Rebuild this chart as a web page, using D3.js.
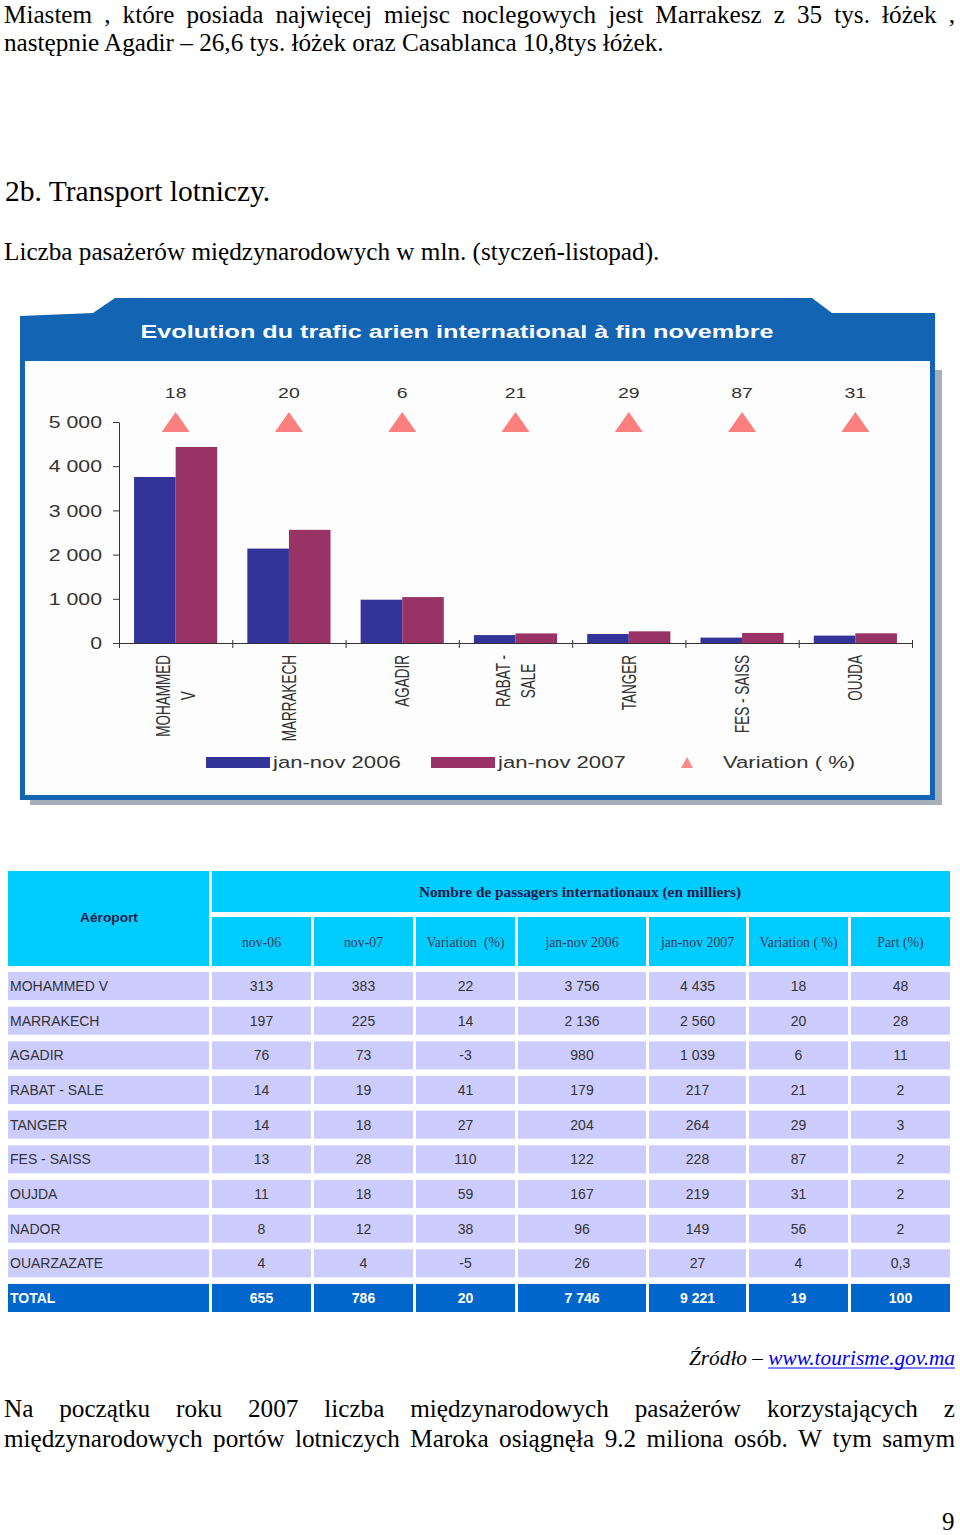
<!DOCTYPE html>
<html><head><meta charset="utf-8">
<script src="https://cdn.jsdelivr.net/npm/d3@7"></script>
<style>html,body{margin:0;padding:0;background:#fff;}svg{display:block;}</style>
</head><body>
<script>
// ---------- DATA ----------
const airports = ["MOHAMMED V","MARRAKECH","AGADIR","RABAT - SALE","TANGER","FES - SAISS","OUJDA"];
const axisLabels = [["MOHAMMED","V"],["MARRAKECH"],["AGADIR"],["RABAT -","SALE"],["TANGER"],["FES - SAISS"],["OUJDA"]];
const janNov2006 = [3756,2136,980,179,204,122,167];
const janNov2007 = [4435,2560,1039,217,264,228,219];
const variationPct = [18,20,6,21,29,87,31];
const yTicks = [0,1000,2000,3000,4000,5000];
const markerLevel = 5000;
const seriesNames = ["jan-nov 2006","jan-nov 2007"];
const chartTitle = "Evolution du trafic arien international à fin novembre";

const tableAirports = ["MOHAMMED V","MARRAKECH","AGADIR","RABAT - SALE","TANGER","FES - SAISS","OUJDA","NADOR","OUARZAZATE","TOTAL"];
const colHeaders = ["nov-06","nov-07","Variation  (%)","jan-nov 2006","jan-nov 2007","Variation ( %)","Part (%)"];
const colNov06 = ["313","197","76","14","14","13","11","8","4","655"];
const colNov07 = ["383","225","73","19","18","28","18","12","4","786"];
const colVarNov = ["22","14","-3","41","27","110","59","38","-5","20"];
const colJn06 = ["3 756","2 136","980","179","204","122","167","96","26","7 746"];
const colJn07 = ["4 435","2 560","1 039","217","264","228","219","149","27","9 221"];
const colVarJn = ["18","20","6","21","29","87","31","56","4","19"];
const colPart = ["48","28","11","2","3","2","2","2","0,3","100"];

const textPara1 = ["Miastem , które posiada najwięcej miejsc noclegowych jest Marrakesz z 35 tys. łóżek ,",
                   "następnie Agadir – 26,6 tys. łóżek oraz Casablanca 10,8tys łóżek."];
const heading = "2b. Transport lotniczy.";
const subHeading = "Liczba pasażerów międzynarodowych w mln. (styczeń-listopad).";
const sourceLabel = "Źródło – ";
const sourceLink = "www.tourisme.gov.ma";
const textPara2 = ["Na początku roku 2007 liczba międzynarodowych pasażerów korzystających z",
                   "międzynarodowych portów lotniczych Maroka osiągnęła 9.2 miliona osób. W tym samym"];
const pageNumber = "9";

// ---------- SETUP ----------
const W = 960, H = 1535;
const svg = d3.select("body").append("svg").attr("width", W).attr("height", H);
const SERIF = "'Liberation Serif','Times New Roman',serif";
const SANS = "'Liberation Sans',Arial,sans-serif";
const BODY = 25.2;

function textLine(str, x0, y, size, opts = {}) {
  const t = svg.append("text").attr("x", x0).attr("y", y)
    .attr("font-family", opts.family || SERIF).attr("font-size", size)
    .attr("fill", opts.fill || "#000");
  if (!opts.justifyTo) { t.text(str); return t; }
  const words = str.split(" ").filter(w => w.length);
  const spans = words.map(w => t.append("tspan").text(w));
  const widths = spans.map(s => s.node().getComputedTextLength());
  const total = d3.sum(widths);
  const gap = (opts.justifyTo - x0 - total) / (words.length - 1);
  let x = x0;
  spans.forEach((s, i) => { s.attr("x", x); x += widths[i] + gap; });
  return t;
}

// ---------- PAGE TEXT ----------
textLine(textPara1[0], 4, 22.5, BODY, {justifyTo: 955});
textLine(textPara1[1], 4, 50.5, BODY);
textLine(heading, 5, 201, 29.5);
textLine(subHeading, 4, 260, BODY);

// ---------- CHART FRAME ----------
const blue = "#1464b4";
svg.append("rect").attr("x", 30).attr("y", 370).attr("width", 912).attr("height", 435).attr("fill", "#a7afb8");
svg.append("path").attr("fill", blue)
  .attr("d", "M20,316 L93,313 L115,298 L812,298 L832,313 L935,313 L935,800 L20,800 Z");
svg.append("rect").attr("x", 25).attr("y", 361).attr("width", 905).attr("height", 434).attr("fill", "#fdfdfd");
svg.append("text").attr("x", 457).attr("y", 338).attr("text-anchor", "middle")
  .attr("font-family", SANS).attr("font-weight", "bold").attr("font-size", 17.5)
  .attr("fill", "#fff").attr("textLength", 633).attr("lengthAdjust", "spacingAndGlyphs")
  .text(chartTitle);

// ---------- CHART ----------
const ink = "#333";
const x0 = d3.scaleBand().domain(airports).range([119, 912]).paddingInner(0.266).paddingOuter(0.133);
const x1 = d3.scaleBand().domain(seriesNames).range([0, x0.bandwidth()]);
const y = d3.scaleLinear().domain([0, 5000]).range([643, 422]);
const color = d3.scaleOrdinal().domain(seriesNames).range(["#333399", "#993366"]);
const fmt = d3.formatLocale({decimal: ",", thousands: " ", grouping: [3], currency: ["", ""]}).format(",");

const chart = svg.append("g");
const rows = airports.map((a, i) => ({a, vals: [janNov2006[i], janNov2007[i]], v: variationPct[i], lab: axisLabels[i]}));

const grp = chart.selectAll("g.cat").data(rows).join("g").attr("class", "cat")
  .attr("transform", d => `translate(${x0(d.a)},0)`);
grp.selectAll("rect").data(d => d.vals.map((v, k) => ({k: seriesNames[k], v}))).join("rect")
  .attr("x", d => x1(d.k)).attr("width", x1.bandwidth())
  .attr("y", d => y(d.v)).attr("height", d => y(0) - y(d.v))
  .attr("fill", d => color(d.k));

// y axis
const yAxis = chart.append("g").attr("transform", "translate(119,0)")
  .call(d3.axisLeft(y).tickValues(yTicks).tickSize(6).tickSizeOuter(0).tickFormat(fmt));
yAxis.select(".domain").attr("stroke", ink);
yAxis.selectAll(".tick line").attr("stroke", ink);
yAxis.selectAll(".tick text").attr("x", 0).attr("transform", "translate(-17,0) scale(1.33,1)")
  .attr("font-family", SANS).attr("font-size", 16).attr("fill", ink).attr("dy", "0.35em");

// x axis (category boundaries)
const xb = d3.scaleLinear().domain([0, airports.length]).range([119, 912]);
const xAxis = chart.append("g").attr("transform", `translate(0,${y(0)})`)
  .call(d3.axisBottom(xb).tickValues(d3.range(airports.length + 1)).tickSize(5).tickSizeOuter(0).tickFormat(""));
xAxis.select(".domain").attr("stroke", ink);
xAxis.selectAll(".tick line").attr("stroke", ink).attr("y1", -3);

// category labels (rotated, lines centred on each other, block anchored below axis)
const labG = chart.selectAll("g.lab").data(rows).join("g").attr("class", "lab")
  .attr("transform", d => `translate(${x0(d.a) + x0.bandwidth() / 2},655)`);
labG.each(function(d) {
  const t = d3.select(this).append("text").attr("transform", "rotate(-90) scale(1,1.45)")
    .attr("text-anchor", "middle").attr("font-family", SANS).attr("font-size", 13.5).attr("fill", ink);
  const n = d.lab.length;
  const spans = d.lab.map((l, i) => t.append("tspan").attr("y", 4.7 + (i - (n - 1) / 2) * 17.5).text(l));
  const L = d3.max(spans, s => s.node().getComputedTextLength());
  spans.forEach(s => s.attr("x", -L / 2));
});

// variation markers
const tri = "M-14,10 L0,-10 L14,10 Z";
const mk = chart.selectAll("g.mk").data(rows).join("g").attr("class", "mk")
  .attr("transform", d => `translate(${x0(d.a) + x0.bandwidth() / 2},${y(markerLevel)})`);
mk.append("path").attr("d", tri).attr("fill", "#fb7f7f");
mk.append("text").attr("y", -24).attr("text-anchor", "middle").attr("transform", "scale(1.3,1)")
  .attr("font-family", SANS).attr("font-size", 15).attr("fill", ink).text(d => d.v);

// legend
const legItems = [
  {type: "rect", name: seriesNames[0], x: 206},
  {type: "rect", name: seriesNames[1], x: 431},
  {type: "tri", name: "Variation ( %)", x: 681}
];
const leg = chart.append("g");
legItems.forEach(it => {
  if (it.type === "rect") {
    leg.append("rect").attr("x", it.x).attr("y", 757).attr("width", 64).attr("height", 11).attr("fill", color(it.name));
    leg.append("text").attr("transform", `translate(${it.x + 67},768) scale(1.3,1)`)
      .attr("font-family", SANS).attr("font-size", 17).attr("fill", ink).text(it.name);
  } else {
    leg.append("path").attr("d", "M-6,5 L0,-6 L6,5 Z").attr("transform", `translate(${it.x + 6},763)`).attr("fill", "#fb8a8a");
    leg.append("text").attr("transform", `translate(${it.x + 42},768) scale(1.3,1)`)
      .attr("font-family", SANS).attr("font-size", 17).attr("fill", ink).text(it.name);
  }
});

// ---------- TABLE ----------
const cyan = "#00ccff", lav = "#ccccff", totalBlue = "#0066cc";
const colEdges = [[212,311],[314,413],[416,515],[518,646],[649,746],[749,848],[851,950]];
const cols = [colNov06, colNov07, colVarNov, colJn06, colJn07, colVarJn, colPart];
const tbl = svg.append("g");
tbl.append("rect").attr("x", 8).attr("y", 871).attr("width", 201).attr("height", 95).attr("fill", cyan);
tbl.append("rect").attr("x", 212).attr("y", 871).attr("width", 738).attr("height", 41).attr("fill", cyan);
tbl.append("text").attr("x", 109).attr("y", 922).attr("text-anchor", "middle")
  .attr("font-family", SANS).attr("font-weight", "bold").attr("font-size", 13.7).attr("fill", "#1a1a4a").text("Aéroport");
tbl.append("text").attr("x", 580).attr("y", 897).attr("text-anchor", "middle")
  .attr("font-family", SERIF).attr("font-weight", "bold").attr("font-size", 15.3).attr("fill", "#1a1a4a")
  .text("Nombre de passagers internationaux (en milliers)");
colEdges.forEach((e, i) => {
  tbl.append("rect").attr("x", e[0]).attr("y", 917).attr("width", e[1] - e[0]).attr("height", 49).attr("fill", cyan);
  tbl.append("text").attr("x", (e[0] + e[1]) / 2).attr("y", 947).attr("text-anchor", "middle")
    .attr("font-family", SERIF).attr("font-size", 13.8).attr("fill", "#3a3a5a").attr("xml:space", "preserve")
    .text(colHeaders[i]);
});
const ry = d3.scaleBand().domain(tableAirports).range([972, 1312]).paddingInner(0.19).paddingOuter(0);
tableAirports.forEach((a, r) => {
  const isTot = a === "TOTAL";
  const fill = isTot ? totalBlue : lav;
  const tc = isTot ? "#fff" : "#333";
  const yy = ry(a), hh = ry.bandwidth();
  tbl.append("rect").attr("x", 8).attr("y", yy).attr("width", 201).attr("height", hh).attr("fill", fill);
  tbl.append("text").attr("x", 10).attr("y", yy + hh / 2 + 5)
    .attr("font-family", SANS).attr("font-size", 14).attr("font-weight", isTot ? "bold" : "normal").attr("fill", tc).text(a);
  colEdges.forEach((e, c) => {
    tbl.append("rect").attr("x", e[0]).attr("y", yy).attr("width", e[1] - e[0]).attr("height", hh).attr("fill", fill);
    tbl.append("text").attr("x", (e[0] + e[1]) / 2).attr("y", yy + hh / 2 + 5).attr("text-anchor", "middle")
      .attr("font-family", SANS).attr("font-size", 14).attr("font-weight", isTot ? "bold" : "normal").attr("fill", tc)
      .text(cols[c][r]);
  });
});

// ---------- SOURCE ----------
const src = svg.append("text").attr("x", 955).attr("y", 1365).attr("text-anchor", "end")
  .attr("font-family", SERIF).attr("font-style", "italic").attr("font-size", 21.3);
src.append("tspan").attr("fill", "#000").text(sourceLabel);
const linkSpan = src.append("tspan").attr("fill", "#0000ee").text(sourceLink);
const lw = linkSpan.node().getComputedTextLength();
svg.append("line").attr("x1", 955 - lw).attr("x2", 955).attr("y1", 1368).attr("y2", 1368)
  .attr("stroke", "#0000ee").attr("stroke-width", 1);

textLine(textPara2[0], 4, 1417, BODY, {justifyTo: 955});
textLine(textPara2[1], 4, 1447, BODY, {justifyTo: 955});
textLine(pageNumber, 942, 1530, 25);
</script>
</body></html>
